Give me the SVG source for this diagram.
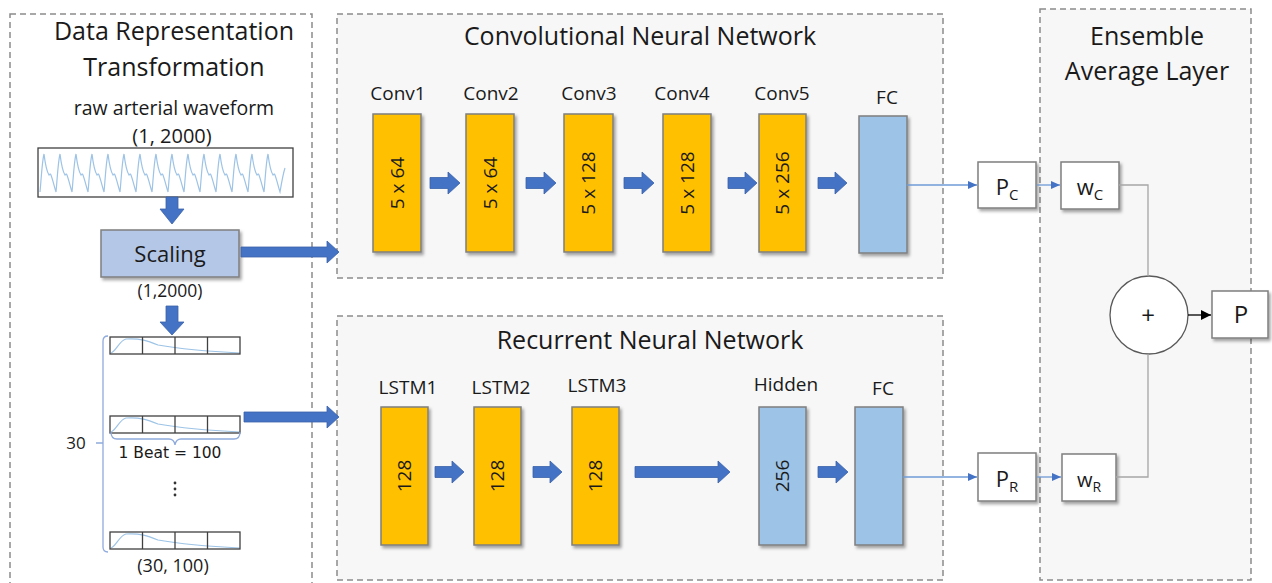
<svg xmlns="http://www.w3.org/2000/svg" xmlns:xlink="http://www.w3.org/1999/xlink" width="1272" height="583" viewBox="0 0 1272 583">
<style>
text{font-family:'Open Sans','Liberation Sans',sans-serif;fill:#1a1a1a;}
.title{font-size:25px;text-anchor:middle;}
.lbl{font-size:19px;text-anchor:middle;}
.panel{fill:#f7f7f7;stroke:#8c8c8c;stroke-width:1.5;stroke-dasharray:6 4;}
.panelw{fill:#ffffff;stroke:#8c8c8c;stroke-width:1.5;stroke-dasharray:6 4;}
.conv{fill:#ffc000;stroke:#7f7f7f;stroke-width:1.5;}
.fc{fill:#9dc3e6;stroke:#7f7f7f;stroke-width:1.5;}
.box{fill:#ffffff;stroke:#7f7f7f;stroke-width:1.5;}
.barrow{fill:#4472c4;stroke:#3a62aa;stroke-width:0.8;}
.thin{fill:none;stroke:#6f9ad6;stroke-width:1.3;}
.gray{fill:none;stroke:#a6a6a6;stroke-width:1.3;}
.wave{fill:none;stroke:#9dc3e6;stroke-width:1.2;}
.brace{fill:none;stroke:#8faadc;stroke-width:1.3;}
</style>
<defs>
<filter id="sh" x="-20%" y="-20%" width="150%" height="150%">
<feDropShadow dx="2" dy="2.5" stdDeviation="1.6" flood-color="#000" flood-opacity="0.35"/>
</filter>
<marker id="ab" markerUnits="userSpaceOnUse" markerWidth="10" markerHeight="10" refX="9" refY="4" orient="auto">
<path d="M0,0 L9,4 L0,8 z" fill="#4472c4"/>
</marker>
<marker id="ak" markerUnits="userSpaceOnUse" markerWidth="12" markerHeight="12" refX="10" refY="5" orient="auto">
<path d="M0,0 L10,5 L0,10 z" fill="#000"/>
</marker>
<g id="beatrow">
<path class="wave" d="M111,16 C116,14 120,3 126,2 C140,1 148,4 158,8 C175,11 200,14 240,16" stroke-width="1"/>
<rect x="110" y="0" width="130" height="17" fill="none" stroke="#404040" stroke-width="1.3"/>
<path d="M142.5,0 V17 M175,0 V17 M207.5,0 V17" stroke="#404040" stroke-width="1.3"/>
</g>
</defs>

<rect width="1272" height="583" fill="#ffffff"/>

<!-- Panels -->
<g id="panel-data">
<rect class="panelw" x="10" y="14" width="302" height="580"/>
<text class="title" x="174" y="40">Data Representation</text>
<text class="title" x="174" y="76">Transformation</text>
</g>
<g id="panel-cnn">
<rect class="panel" x="337" y="14" width="606" height="264"/>
<text class="title" x="640" y="45">Convolutional Neural Network</text>
</g>
<g id="panel-rnn">
<rect class="panel" x="337" y="316" width="606" height="264"/>
<text class="title" x="650" y="349">Recurrent Neural Network</text>
</g>
<g id="panel-ensemble">
<rect class="panel" x="1040" y="9" width="211" height="571"/>
<text class="title" x="1147" y="45">Ensemble</text>
<text class="title" x="1147" y="80">Average Layer</text>
</g>

<!-- Data representation nodes -->
<g id="raw-waveform">
<text x="174" y="115" style="font-size:19.5px;text-anchor:middle">raw arterial waveform</text>
<text x="172" y="143" style="font-size:20px;text-anchor:middle">(1, 2000)</text>
<rect x="38" y="148" width="255" height="49" fill="#ffffff" stroke="#404040" stroke-width="1.3"/>
<path class="wave" d="M40,192 c1,-10 2,-30 4,-38 c1,8 3,18 5,21 c0.5,-1 1,-1 1.5,-1 c2,4 4,14 5.5,18 c1,-10 2,-30 4,-38 c1,8 3,18 5,21 c0.5,-1 1,-1 1.5,-1 c2,4 4,14 5.5,18 c1,-10 2,-30 4,-38 c1,8 3,18 5,21 c0.5,-1 1,-1 1.5,-1 c2,4 4,14 5.5,18 c1,-10 2,-30 4,-38 c1,8 3,18 5,21 c0.5,-1 1,-1 1.5,-1 c2,4 4,14 5.5,18 c1,-10 2,-30 4,-38 c1,8 3,18 5,21 c0.5,-1 1,-1 1.5,-1 c2,4 4,14 5.5,18 c1,-10 2,-30 4,-38 c1,8 3,18 5,21 c0.5,-1 1,-1 1.5,-1 c2,4 4,14 5.5,18 c1,-10 2,-30 4,-38 c1,8 3,18 5,21 c0.5,-1 1,-1 1.5,-1 c2,4 4,14 5.5,18 c1,-10 2,-30 4,-38 c1,8 3,18 5,21 c0.5,-1 1,-1 1.5,-1 c2,4 4,14 5.5,18 c1,-10 2,-30 4,-38 c1,8 3,18 5,21 c0.5,-1 1,-1 1.5,-1 c2,4 4,14 5.5,18 c1,-10 2,-30 4,-38 c1,8 3,18 5,21 c0.5,-1 1,-1 1.5,-1 c2,4 4,14 5.5,18 c1,-10 2,-30 4,-38 c1,8 3,18 5,21 c0.5,-1 1,-1 1.5,-1 c2,4 4,14 5.5,18 c1,-10 2,-30 4,-38 c1,8 3,18 5,21 c0.5,-1 1,-1 1.5,-1 c2,4 4,14 5.5,18 c1,-10 2,-30 4,-38 c1,8 3,18 5,21 c0.5,-1 1,-1 1.5,-1 c2,4 4,14 5.5,18 c1,-10 2,-30 4,-38 c1,8 3,18 5,21 c0.5,-1 1,-1 1.5,-1 c2,4 4,14 5.5,18 c1,-10 2,-30 4,-38 c1,8 3,18 5,21 c0.5,-1 1,-1 1.5,-1 c2,4 4,14 5.5,18 c1,-6 3,-18 5,-24"/>
</g>
<g id="scaling">
<rect x="101" y="230" width="138" height="47" fill="#b4c7e7" stroke="#7f7f7f" stroke-width="1.5" filter="url(#sh)"/>
<text x="170" y="262" style="font-size:22px;text-anchor:middle">Scaling</text>
<text x="170" y="297" style="font-size:17.5px;text-anchor:middle">(1,2000)</text>
</g>
<g id="beat-segments">
<use xlink:href="#beatrow" href="#beatrow" y="337"/>
<use xlink:href="#beatrow" href="#beatrow" y="416"/>
<use xlink:href="#beatrow" href="#beatrow" y="532"/>
<path class="brace" d="M108,336 Q103,336 103,341 L103,547 Q103,552 108,552 M96,443 L103,443"/>
<path class="brace" d="M111,432 Q111,439 117,439 L169,439 Q174,439 175,445 Q176,439 181,439 L234,439 Q240,439 240,432"/>
<text x="76" y="449" style="font-size:17px;text-anchor:middle">30</text>
<text x="170" y="458" style="font-family:'DejaVu Sans',sans-serif;font-size:15.5px;text-anchor:middle">1 Beat = 100</text>
<circle cx="175" cy="483" r="1.4" fill="#333"/>
<circle cx="175" cy="489" r="1.4" fill="#333"/>
<circle cx="175" cy="495" r="1.4" fill="#333"/>
<text x="173" y="572" style="font-size:18px;text-anchor:middle">(30, 100)</text>
</g>

<!-- CNN nodes -->
<g id="conv1">
<text class="lbl" x="398" y="100">Conv1</text>
<rect class="conv" x="373" y="114" width="48" height="138" filter="url(#sh)"/>
<text class="lbl" transform="translate(397,183) rotate(-90)" y="6.5">5 x 64</text>
</g>
<g id="conv2">
<text class="lbl" x="491" y="100">Conv2</text>
<rect class="conv" x="466" y="114" width="48" height="138" filter="url(#sh)"/>
<text class="lbl" transform="translate(490,183) rotate(-90)" y="6.5">5 x 64</text>
</g>
<g id="conv3">
<text class="lbl" x="589" y="100">Conv3</text>
<rect class="conv" x="564" y="114" width="49" height="138" filter="url(#sh)"/>
<text class="lbl" transform="translate(588.5,183) rotate(-90)" y="6.5">5 x 128</text>
</g>
<g id="conv4">
<text class="lbl" x="682" y="100">Conv4</text>
<rect class="conv" x="663" y="114" width="48" height="138" filter="url(#sh)"/>
<text class="lbl" transform="translate(687,183) rotate(-90)" y="6.5">5 x 128</text>
</g>
<g id="conv5">
<text class="lbl" x="782" y="100">Conv5</text>
<rect class="conv" x="759" y="114" width="47" height="138" filter="url(#sh)"/>
<text class="lbl" transform="translate(782.5,183) rotate(-90)" y="6.5">5 x 256</text>
</g>
<g id="cnn-fc">
<text class="lbl" x="887" y="104">FC</text>
<rect class="fc" x="859" y="116" width="48" height="137" filter="url(#sh)"/>
</g>

<!-- RNN nodes -->
<g id="lstm1">
<text class="lbl" x="408" y="394">LSTM1</text>
<rect class="conv" x="381" y="407" width="47" height="138" filter="url(#sh)"/>
<text class="lbl" transform="translate(404.5,476) rotate(-90)" y="6.5">128</text>
</g>
<g id="lstm2">
<text class="lbl" x="501" y="394">LSTM2</text>
<rect class="conv" x="474" y="407" width="47" height="138" filter="url(#sh)"/>
<text class="lbl" transform="translate(497.5,476) rotate(-90)" y="6.5">128</text>
</g>
<g id="lstm3">
<text class="lbl" x="597" y="392">LSTM3</text>
<rect class="conv" x="572" y="407" width="47" height="138" filter="url(#sh)"/>
<text class="lbl" transform="translate(595.5,476) rotate(-90)" y="6.5">128</text>
</g>
<g id="hidden">
<text class="lbl" x="786" y="391">Hidden</text>
<rect class="fc" x="759" y="407" width="47" height="138" filter="url(#sh)"/>
<text class="lbl" transform="translate(782.5,476) rotate(-90)" y="6.5">256</text>
</g>
<g id="rnn-fc">
<text class="lbl" x="883" y="395">FC</text>
<rect class="fc" x="855" y="407" width="48" height="138" filter="url(#sh)"/>
</g>

<!-- Ensemble nodes -->
<g id="pc">
<rect class="box" x="978" y="162" width="58" height="46" filter="url(#sh)"/>
<text x="1007" y="195" style="font-size:22px;text-anchor:middle">P<tspan dy="5" font-size="15">C</tspan></text>
</g>
<g id="wc">
<rect class="box" x="1061" y="162" width="58" height="47" filter="url(#sh)"/>
<text x="1090" y="195" style="font-size:22px;text-anchor:middle">w<tspan dy="5" font-size="15">C</tspan></text>
</g>
<g id="pr">
<rect class="box" x="978" y="453" width="58" height="48" filter="url(#sh)"/>
<text x="1007" y="487" style="font-size:22px;text-anchor:middle">P<tspan dy="5" font-size="15">R</tspan></text>
</g>
<g id="wr">
<rect class="box" x="1062" y="454" width="54" height="47" filter="url(#sh)"/>
<text x="1089" y="487" style="font-size:20px;text-anchor:middle">w<tspan dy="5" font-size="14">R</tspan></text>
</g>
<g id="sum">
<circle cx="1149" cy="315" r="39" fill="#ffffff" stroke="#595959" stroke-width="1.3"/>
<text x="1148" y="324" style="font-size:24px;text-anchor:middle">+</text>
</g>
<g id="p-out">
<rect class="box" x="1212" y="291" width="56" height="47" filter="url(#sh)"/>
<text x="1241" y="323" style="font-size:24px;text-anchor:middle">P</text>
</g>

<!-- Connectors -->
<g id="connectors">
<polygon class="barrow" points="166,197 178,197 178,209 184,209 172,224 160,209 166,209"/>
<polygon class="barrow" points="166,306 178,306 178,322 184,322 172,335 160,322 166,322"/>
<polygon class="barrow" points="241,247 327,247 327,241 339,252 327,263 327,257 241,257"/>
<polygon class="barrow" points="244,412 327,412 327,406 339,417 327,428 327,422 244,422"/>
<polygon class="barrow" points="430,177.5 448,177.5 448,172 460,183 448,194 448,188.5 430,188.5"/>
<polygon class="barrow" points="526,177.5 544,177.5 544,172 556,183 544,194 544,188.5 526,188.5"/>
<polygon class="barrow" points="624,177.5 642,177.5 642,172 654,183 642,194 642,188.5 624,188.5"/>
<polygon class="barrow" points="728,177.5 745,177.5 745,172 757,183 745,194 745,188.5 728,188.5"/>
<polygon class="barrow" points="818,177.5 835,177.5 835,172 847,183 835,194 835,188.5 818,188.5"/>
<polygon class="barrow" points="435,466.5 452,466.5 452,461 464,472 452,483 452,477.5 435,477.5"/>
<polygon class="barrow" points="533,466.5 550,466.5 550,461 562,472 550,483 550,477.5 533,477.5"/>
<polygon class="barrow" points="635,466.5 718,466.5 718,461 730,472 718,483 718,477.5 635,477.5"/>
<polygon class="barrow" points="818,466.5 836,466.5 836,461 848,472 836,483 836,477.5 818,477.5"/>
<line class="thin" x1="907" y1="185" x2="977" y2="185" marker-end="url(#ab)"/>
<line class="thin" x1="1037" y1="185" x2="1060" y2="185" marker-end="url(#ab)"/>
<line class="thin" x1="903" y1="477" x2="977" y2="477" marker-end="url(#ab)"/>
<line class="thin" x1="1037" y1="477" x2="1061" y2="477" marker-end="url(#ab)"/>
<path class="gray" d="M1119,185 H1148 V276"/>
<path class="gray" d="M1116,477 H1148 V354"/>
<line x1="1188" y1="315" x2="1211" y2="315" stroke="#000" stroke-width="1.3" marker-end="url(#ak)"/>
</g>
</svg>
